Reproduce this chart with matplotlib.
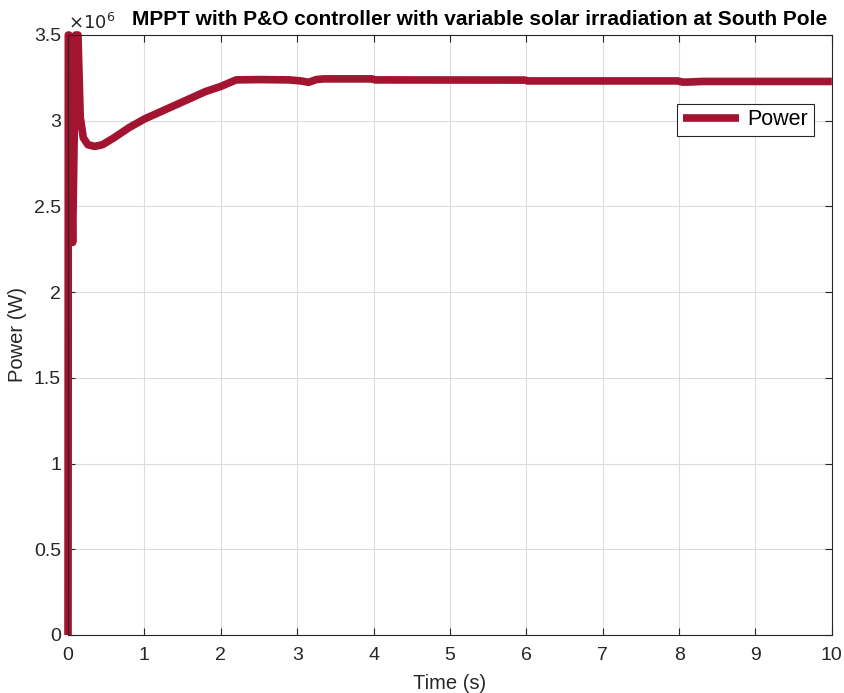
import numpy as np
import matplotlib.pyplot as plt

plt.rcParams['font.family'] = ['Liberation Sans', 'DejaVu Sans']

# time (s) and power (x1e6 W)
time_s = [0.0, 0.004, 0.012, 0.018, 0.06, 0.10, 0.13, 0.16, 0.20, 0.26, 0.35,
          0.45, 0.6, 0.8, 1.0, 1.2, 1.5, 1.8, 2.0, 2.2, 2.5, 2.9, 3.05, 3.15,
          3.25, 3.35, 3.98, 4.02, 5.98, 6.02, 7.98, 8.05, 8.15, 8.3, 10.0]
power_mw = [0.0, 3.5, 3.5, 3.3, 2.29, 3.5, 3.5, 3.02, 2.90, 2.86, 2.85,
            2.86, 2.90, 2.96, 3.01, 3.05, 3.11, 3.17, 3.20, 3.238, 3.240, 3.238,
            3.232, 3.224, 3.240, 3.244, 3.244, 3.238, 3.237, 3.232, 3.232, 3.225,
            3.226, 3.229, 3.229]

fig = plt.figure(figsize=(8.44, 6.93), dpi=100)
ax = fig.add_axes([0.0806, 0.0837, 0.905, 0.8658])

ax.plot(time_s, power_mw, color='#A2142F', linewidth=5.5, label='Power',
        solid_joinstyle='round', solid_capstyle='butt', clip_on=False)

ax.set_xlim(0, 10)
ax.set_ylim(0, 3.5)
ax.set_xticks(np.arange(0, 11, 1))
ax.set_yticks(np.arange(0, 3.6, 0.5))
ax.set_yticklabels(['0', '0.5', '1', '1.5', '2', '2.5', '3', '3.5'])
ax.grid(True, color='#dcdcdc', linewidth=0.8)
ax.set_axisbelow(True)
ax.tick_params(direction='in', length=5, labelsize=14, colors='#262626',
               top=True, right=True)
ax.tick_params(axis='x', pad=9)
ax.tick_params(axis='y', pad=5)
for s in ax.spines.values():
    s.set_color('#262626')
    s.set_linewidth(0.8)

ax.set_xlabel('Time (s)', fontsize=14.5, color='#262626', labelpad=7)
ax.set_ylabel('Power (W)', fontsize=14.5, color='#262626', labelpad=5)
ax.set_title('MPPT with P&O controller with variable solar irradiation at South Pole',
             fontsize=15, fontweight='bold', pad=7, x=0.539)
ax.text(0.0, 1.003, r'$\times10^{6}$', transform=ax.transAxes, fontsize=13,
        color='#262626', va='bottom', ha='left')

leg = ax.legend(loc='upper right', bbox_to_anchor=(0.976, 0.885), fontsize=15.5,
                fancybox=False, edgecolor='#262626', framealpha=1,
                handlelength=2.6, handletextpad=0.4, borderpad=0.25,
                borderaxespad=0)
leg.get_frame().set_linewidth(0.8)

fig.savefig('out.png', dpi=100)
